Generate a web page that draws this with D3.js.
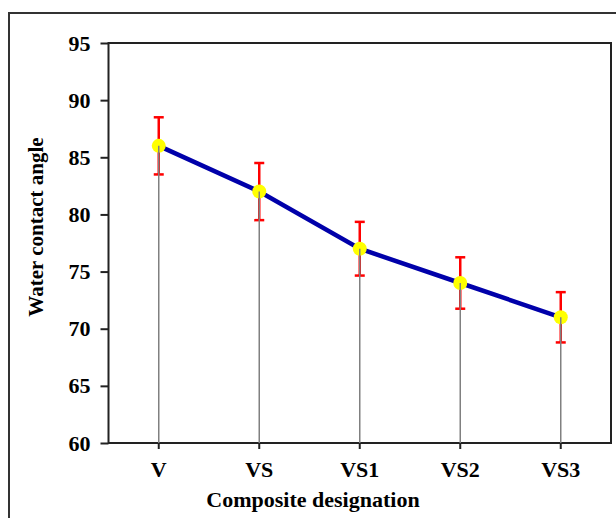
<!DOCTYPE html>
<html>
<head>
<meta charset="utf-8">
<script src="https://cdn.jsdelivr.net/npm/d3@7"></script>
<style>
    body { margin: 0; background: #fff; }
    svg { display: block; }
    .axis text { font-family: "Liberation Serif", "Times New Roman", serif; font-weight: bold; font-size: 22px; fill: #000; }
    .axis path, .axis line { stroke: #222; stroke-width: 2; }
</style>
</head>
<body>
<div id="chart"></div>
<script>
// Chart data
const categories = ["V", "VS", "VS1", "VS2", "VS3"];
const angles = [86, 82, 77, 74, 71];
const errors = [2.5, 2.5, 2.35, 2.25, 2.2];
const yTicks = [60, 65, 70, 75, 80, 85, 90, 95];

const data = categories.map((c, i) => ({ key: c, value: angles[i], err: errors[i] }));

const margin = { top: 43, right: 5, bottom: 75, left: 108.5 };
const totalW = 616, totalH = 518;
const width = totalW - margin.left - margin.right;
const height = totalH - margin.top - margin.bottom;

const root = d3.select("#chart").append("svg")
    .attr("width", totalW)
    .attr("height", totalH);

// outer frame (cut off at right and bottom)
root.append("rect")
    .attr("x", 9).attr("y", 13)
    .attr("width", 700).attr("height", 600)
    .attr("fill", "none")
    .attr("stroke", "#333")
    .attr("stroke-width", 2);

const svg = root.append("g")
    .attr("transform", `translate(${margin.left}, ${margin.top})`);

const x = d3.scaleBand().domain(categories).range([0, width]);
const y = d3.scaleLinear().domain([60, 95]).range([height, 0]);
const cx = d => x(d.key) + x.bandwidth() / 2;

// plot border
svg.append("rect")
    .attr("width", width).attr("height", height)
    .attr("fill", "none")
    .attr("stroke", "#222")
    .attr("stroke-width", 2);

// axes
svg.append("g")
    .attr("class", "axis")
    .call(d3.axisLeft(y).tickValues(yTicks).tickSize(8).tickPadding(10).tickSizeOuter(0))
    .call(g => g.select(".domain").remove());

svg.append("g")
    .attr("class", "axis")
    .attr("transform", `translate(0, ${height})`)
    .call(d3.axisBottom(x).tickSize(6).tickPadding(12).tickSizeOuter(0))
    .call(g => g.select(".domain").remove());

// axis titles
root.append("text")
    .attr("x", 313).attr("y", 507)
    .attr("text-anchor", "middle")
    .style("font-family", '"Liberation Serif", "Times New Roman", serif')
    .style("font-weight", "bold")
    .style("font-size", "22px")
    .text("Composite designation");

root.append("text")
    .attr("transform", "translate(43, 227) rotate(-90)")
    .attr("text-anchor", "middle")
    .style("font-family", '"Liberation Serif", "Times New Roman", serif')
    .style("font-weight", "bold")
    .style("font-size", "21px")
    .text("Water contact angle");

// main line
svg.append("path")
    .datum(data)
    .attr("fill", "none")
    .attr("stroke", "#0000aa")
    .attr("stroke-width", 4.5)
    .attr("d", d3.line().x(cx).y(d => y(d.value)));

// error bars
const eb = svg.selectAll(".err").data(data).enter().append("g")
    .attr("class", "err")
    .attr("stroke", "#ff0000")
    .attr("stroke-width", 2.5);
eb.append("line")
    .attr("x1", cx).attr("x2", cx)
    .attr("y1", d => y(d.value + d.err))
    .attr("y2", d => y(d.value - d.err));
eb.append("line")
    .attr("x1", d => cx(d) - 5).attr("x2", d => cx(d) + 5)
    .attr("y1", d => y(d.value + d.err)).attr("y2", d => y(d.value + d.err));
eb.append("line")
    .attr("x1", d => cx(d) - 5).attr("x2", d => cx(d) + 5)
    .attr("y1", d => y(d.value - d.err)).attr("y2", d => y(d.value - d.err));

// markers
svg.selectAll(".dot").data(data).enter().append("circle")
    .attr("class", "dot")
    .attr("cx", cx)
    .attr("cy", d => y(d.value))
    .attr("r", 7)
    .attr("fill", "#ffff00");

// drop lines
svg.selectAll(".drop").data(data).enter().append("line")
    .attr("class", "drop")
    .attr("x1", cx).attr("x2", cx)
    .attr("y1", d => y(d.value))
    .attr("y2", height)
    .attr("stroke", "#808080")
    .attr("stroke-width", 1.5);
</script>
</body>
</html>
